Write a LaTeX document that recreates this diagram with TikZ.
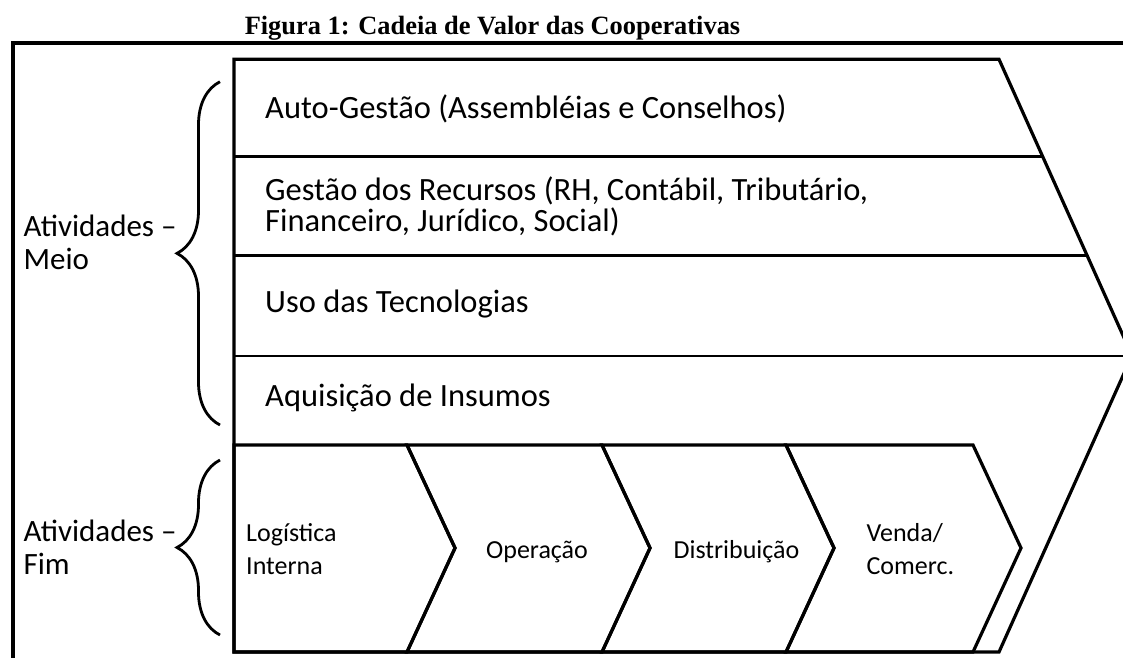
\documentclass[tikz,border=0pt]{standalone}
\usepackage{fontspec}
\setmainfont{Carlito}
\newfontfamily\titlefont{Liberation Serif}
\usetikzlibrary{decorations.pathreplacing}
\setlength{\lineskiplimit}{-100pt}

\definecolor{linecolor}{RGB}{0,0,0}

\begin{document}
\begin{tikzpicture}[x=1pt, y=-1pt, line width=3.2pt, draw=linecolor,
    row/.style = {anchor=west, inner sep=0pt, align=left, font=\fontsize{32.5}{31}\selectfont},
    act/.style = {inner sep=0pt, align=left, font=\fontsize{26}{33}\selectfont},
    side/.style = {anchor=west, inner sep=0pt, align=left, font=\fontsize{31}{33.5}\selectfont},
    group/.style = {draw=linecolor, decorate, decoration={brace, amplitude=43pt}, line width=2.8pt}]
    \useasboundingbox[fill=white] (0,0) rectangle (1123,657);

    \node[anchor=base, inner sep=0pt, font=\titlefont\bfseries\fontsize{26.4}{30}\selectfont] (Title) at (492.5,34) {Figura 1: Cadeia de Valor das Cooperativas};
    \draw[linecolor] (13,700) -- (13,43) -- (1140,43);

    % big arrow: support activities
    \coordinate (TopLeft) at (234,59.3);
    \coordinate (TopRight) at (999,59.3);
    \coordinate (Apex) at (1132,355.5);
    \coordinate (BottomRight) at (999,652);
    \coordinate (BottomLeft) at (234,652);
    \draw[linecolor, line join=miter] (BottomLeft) -- (TopLeft) -- (TopRight) -- (Apex) -- (BottomRight) -- cycle;
    \draw[linecolor, line width=2.8pt] (234,156.7) -- (1042.7,156.7);
    \draw[linecolor, line width=2.8pt] (234,255.3) -- (1087,255.3);
    \draw[linecolor, line width=2.8pt] (234,356) -- (1132,356);

    \node[row] (AutoGestao) at (263.6,108.5) {Auto-Gestão (Assembléias e Conselhos)};
    \node[row] (Recursos) at (263.6,206.5) {Gestão dos Recursos (RH, Contábil, Tributário,\\Financeiro, Jurídico, Social)};
    \node[row] (Tecnologias) at (263.6,304) {Uso das Tecnologias};
    \node[row] (Insumos) at (263.6,398) {Aquisição de Insumos};

    % primary activities
    \draw[linecolor, line join=miter] (234,445) -- (407,445) -- (455,548) -- (407,652) -- (234,652) -- cycle;
    \draw[linecolor, line join=miter] (407,445) -- (602,445) -- (650,548) -- (602,652) -- (407,652) -- (455,548) -- cycle;
    \draw[linecolor, line join=miter] (602,445) -- (786,445) -- (834,548) -- (786,652) -- (602,652) -- (650,548) -- cycle;
    \draw[linecolor, line join=miter] (786,445) -- (973,445) -- (1021,548) -- (973,652) -- (786,652) -- (834,548) -- cycle;

    \node[act, anchor=west] (Logistica) at (244.6,548.8) {Logística\\Interna};
    \node[act, anchor=base] (Operacao) at (537,558) {Operação};
    \node[act, anchor=base] (Distribuicao) at (736.5,558) {Distribuição};
    \node[act, anchor=west] (Venda) at (865,549) {Venda/\\Comerc.};

    % groups
    \coordinate (MeioTop) at (220,81.7);
    \coordinate (MeioBottom) at (220,425);
    \coordinate (FimTop) at (220,460);
    \coordinate (FimBottom) at (220,635);
    \draw[group] (MeioBottom) -- (MeioTop);
    \draw[group] (FimBottom) -- (FimTop);
    \node[side] (Meio) at (22,242.5) {Atividades –\\Meio};
    \node[side] (Fim) at (22,547) {Atividades –\\Fim};
\end{tikzpicture}
\end{document}
